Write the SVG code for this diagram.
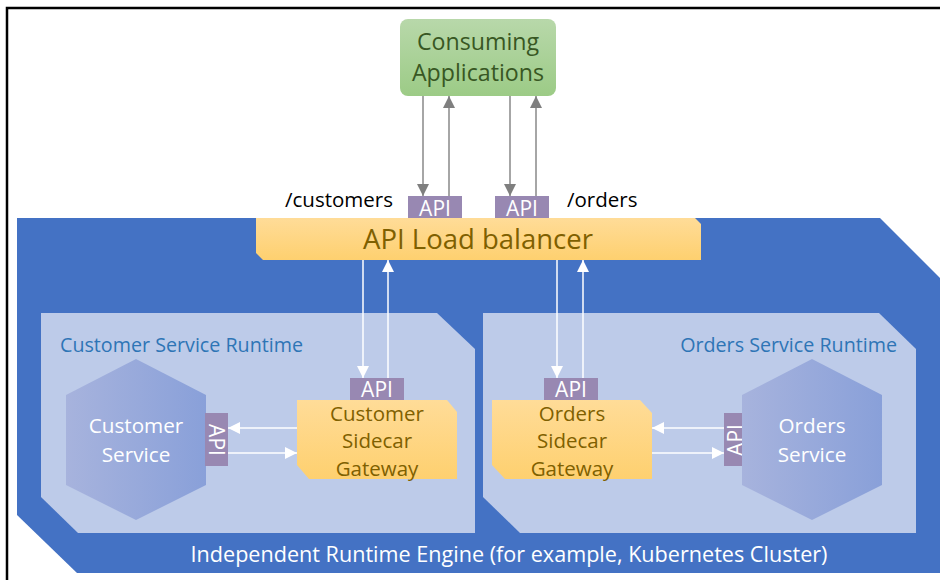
<svg xmlns="http://www.w3.org/2000/svg" width="940" height="584" viewBox="0 0 940 584">
<defs>
<linearGradient id="gGreen" x1="0" y1="0" x2="0" y2="1"><stop offset="0" stop-color="#b8d8aa"/><stop offset="1" stop-color="#9ccb86"/></linearGradient>
<linearGradient id="gYellow" x1="0" y1="0" x2="0" y2="1"><stop offset="0" stop-color="#ffdc98"/><stop offset="1" stop-color="#fed06f"/></linearGradient>
<linearGradient id="gHex" x1="0" y1="0" x2="1" y2="0"><stop offset="0" stop-color="#a7b3dd"/><stop offset="1" stop-color="#89a0d9"/></linearGradient>
<marker id="aGray" markerUnits="userSpaceOnUse" markerWidth="12" markerHeight="12" refX="12" refY="6" orient="auto"><path d="M0,0 L12,6 L0,12 z" fill="#7f7f7f"/></marker>
<marker id="aWhite" markerUnits="userSpaceOnUse" markerWidth="12" markerHeight="12" refX="12" refY="6" orient="auto"><path d="M0,0 L12,6 L0,12 z" fill="#ffffff"/></marker>
</defs>
<style>
text{font-family:"Open Sans","Noto Sans","DejaVu Sans",sans-serif;}
.api{fill:#9888b2;}
.apit{fill:#ffffff;font-size:21px;text-anchor:middle;}
.yel{fill:url(#gYellow);}
.yt{fill:#7f6000;font-size:20.5px;text-anchor:middle;}
.rtl{fill:#2e75b6;font-size:19.7px;}
.hex{fill:url(#gHex);}
.ht{fill:#ffffff;font-size:20.7px;text-anchor:middle;}
.cg{stroke:#a6a6a6;stroke-width:2;fill:none;}
.cw{stroke:#ffffff;stroke-width:1.5;fill:none;}
</style>
<rect x="0" y="0" width="940" height="584" fill="#ffffff"/>
<path d="M7,580 V8 H940" fill="none" stroke="#000000" stroke-width="2.5"/>

<g id="engine">
<polygon points="17,218 880,218 940,278 940,573 77,573 17,515" fill="#4472c4"/>
<text x="509" y="562" fill="#ffffff" font-size="21.6" text-anchor="middle">Independent Runtime Engine (for example, Kubernetes Cluster)</text>
</g>

<g id="customer-runtime">
<polygon points="41,313 437,313 475,349 475,533 78,533 41,497" fill="#bdcbe9"/>
<text class="rtl" x="60" y="352">Customer Service Runtime</text>
</g>

<g id="orders-runtime">
<polygon points="483,313 879,313 916,349 916,533 520,533 483,497" fill="#bdcbe9"/>
<text class="rtl" x="897" y="352" text-anchor="end">Orders Service Runtime</text>
</g>

<g id="consuming-apps">
<rect x="400" y="19" width="156" height="77" rx="8" fill="url(#gGreen)"/>
<text x="478" y="50" fill="#385723" font-size="23.2" text-anchor="middle">Consuming</text>
<text x="478" y="81" fill="#385723" font-size="23.2" text-anchor="middle">Applications</text>
</g>

<g id="label-customers"><text x="285" y="207" fill="#000000" font-size="20.5">/customers</text></g>
<g id="label-orders"><text x="567" y="207" fill="#000000" font-size="20.5">/orders</text></g>

<g id="api-customers-top">
<rect class="api" x="408" y="196" width="54" height="22"/>
<text class="apit" x="435" y="216">API</text>
</g>
<g id="api-orders-top">
<rect class="api" x="495" y="196" width="54" height="22"/>
<text class="apit" x="522" y="216">API</text>
</g>

<g id="load-balancer">
<polygon class="yel" points="256,218 695,218 701,224 701,260 263,260 256,253"/>
<text x="478" y="249" fill="#7f6000" font-size="27.5" text-anchor="middle">API Load balancer</text>
</g>

<g id="customer-service">
<polygon class="hex" points="136,359 206,395 206,485 136,520 66,485 66,395"/>
<text class="ht" x="136" y="433">Customer</text>
<text class="ht" x="136" y="462">Service</text>
</g>

<g id="customer-service-api">
<rect class="api" x="205" y="413" width="23" height="53"/>
<text class="apit" transform="translate(209,440) rotate(90)" y="0">API</text>
</g>

<g id="customer-gateway-api">
<rect class="api" x="350" y="378" width="54" height="22"/>
<text class="apit" x="377" y="397">API</text>
</g>

<g id="customer-sidecar">
<polygon class="yel" points="297,400 447,400 457,412 457,479 309,479 297,465"/>
<text class="yt" x="377" y="421">Customer</text>
<text class="yt" x="377" y="448">Sidecar</text>
<text class="yt" x="377" y="476">Gateway</text>
</g>

<g id="orders-gateway-api">
<rect class="api" x="544" y="378" width="54" height="22"/>
<text class="apit" x="571" y="397">API</text>
</g>

<g id="orders-sidecar">
<polygon class="yel" points="492,400 640,400 652,413 652,479 505,479 492,465"/>
<text class="yt" x="572" y="421">Orders</text>
<text class="yt" x="572" y="448">Sidecar</text>
<text class="yt" x="572" y="476">Gateway</text>
</g>

<g id="orders-service-api">
<rect class="api" x="724" y="413" width="23" height="53"/>
<text class="apit" transform="translate(743,440) rotate(-90)" y="0">API</text>
</g>

<g id="orders-service">
<polygon class="hex" points="812,359 882,395 882,485 812,520 742,485 742,395"/>
<text class="ht" x="812" y="433">Orders</text>
<text class="ht" x="812" y="462">Service</text>
</g>

<g id="connectors">
<line class="cg" x1="423" y1="96" x2="423" y2="196" marker-end="url(#aGray)"/>
<line class="cg" x1="449" y1="196" x2="449" y2="96" marker-end="url(#aGray)"/>
<line class="cg" x1="510" y1="96" x2="510" y2="196" marker-end="url(#aGray)"/>
<line class="cg" x1="536" y1="196" x2="536" y2="96" marker-end="url(#aGray)"/>
<line class="cw" x1="363" y1="260" x2="363" y2="378" marker-end="url(#aWhite)"/>
<line class="cw" x1="388" y1="378" x2="388" y2="260" marker-end="url(#aWhite)"/>
<line class="cw" x1="557" y1="260" x2="557" y2="378" marker-end="url(#aWhite)"/>
<line class="cw" x1="583" y1="378" x2="583" y2="260" marker-end="url(#aWhite)"/>
<line class="cw" x1="297" y1="428" x2="228" y2="428" marker-end="url(#aWhite)"/>
<line class="cw" x1="228" y1="453" x2="297" y2="453" marker-end="url(#aWhite)"/>
<line class="cw" x1="724" y1="428" x2="652" y2="428" marker-end="url(#aWhite)"/>
<line class="cw" x1="652" y1="453" x2="724" y2="453" marker-end="url(#aWhite)"/>
</g>
</svg>
